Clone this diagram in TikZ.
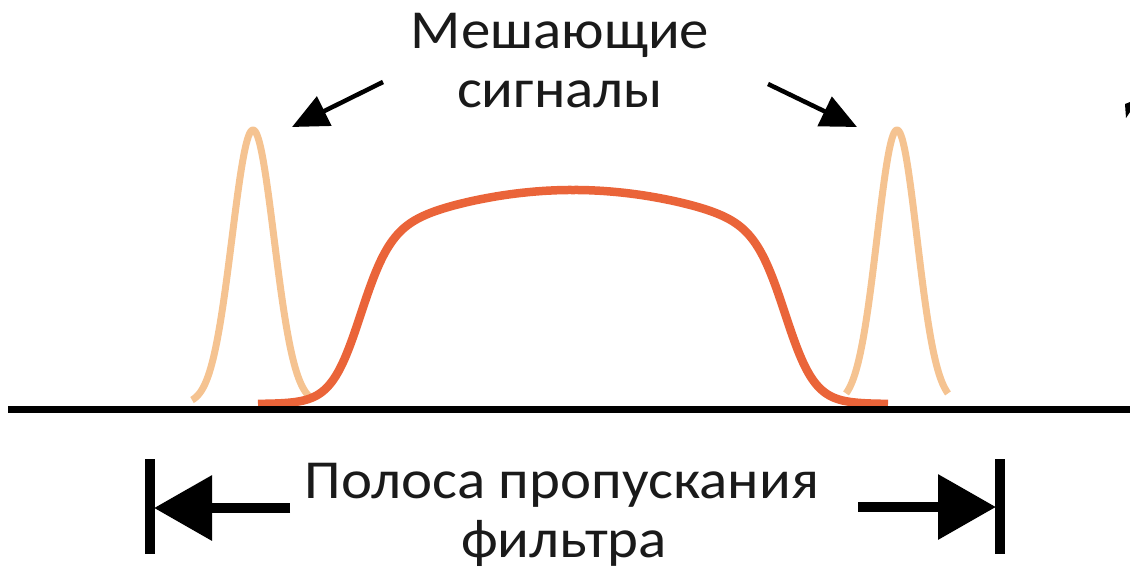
\documentclass[tikz,border=0pt]{standalone}
\usepackage{fontspec}
\setmainfont{Carlito}
\usetikzlibrary{arrows.meta}
\definecolor{peakc}{HTML}{F5C391}
\definecolor{mainc}{HTML}{EA6439}
\definecolor{txtc}{HTML}{1A1A1A}
\newcommand{\wtxt}[1]{\scalebox{1.07}[1]{#1}}
\tikzset{
  lbl/.style={anchor=base, text=txtc, font=\fontsize{55}{55}\selectfont, inner sep=0pt},
  peak/.style={peakc, line width=7pt, line join=round},
  band/.style={mainc, line width=8.5pt, line join=round},
  ptr/.style={line width=4.5pt, -{Triangle[length=36pt,width=32pt]}},
  span/.style={line width=10pt, -{Triangle[length=58pt,width=63pt]}},
  bar/.style={line width=10pt}
}
\begin{document}
\begin{tikzpicture}[x=1pt,y=-1pt]
\useasboundingbox (0,0) rectangle (1130,573);
% interfering peaks
\draw[peak] plot[domain=192:312, samples=120, smooth] (\x,{404-274*exp(-((\x-253)/21)^2/2)});
\draw[peak] plot[domain=846:948, samples=120, smooth] (\x,{404-274*exp(-((\x-897)/20)^2/2)});
% passband
\draw[band] plot[domain=258:888, samples=300, smooth]
  (\x,{404-214*exp(-((\x-573)/440)^2)/((1+exp(min(8,-(\x-359)/15)))*(1+exp(min(8,(\x-787)/15))))});
% baseline
\coordinate (b0) at (8,409);
\coordinate (b1) at (1130,409);
\draw[line width=7pt] (b0) -- (b1);
% labels
\node[lbl] (t1) at (560,48) {\wtxt{Мешающие}};
\node[lbl] (t2) at (560,107) {\wtxt{сигналы}};
\node[lbl] (u1) at (562,498) {\wtxt{Полоса пропускания}};
\node[lbl] (u2) at (564,557) {\wtxt{фильтра}};
% pointer arrows
\coordinate (la0) at (383,82);
\coordinate (lpk) at (292,127);
\coordinate (ra0) at (768,84);
\coordinate (rpk) at (857,127);
\draw[ptr] (la0) -- (lpk);
\draw[ptr] (ra0) -- (rpk);
% band width arrows
\coordinate (ls) at (290,508);
\coordinate (lt) at (154,508);
\coordinate (rs) at (858,507);
\coordinate (rt) at (996,507);
\draw[span] (ls) -- (lt);
\draw[span] (rs) -- (rt);
\coordinate (lb0) at (150,459);
\coordinate (lb1) at (150,554);
\coordinate (rb0) at (1000,459);
\coordinate (rb1) at (1000,554);
\draw[bar] (lb0) -- (lb1);
\draw[bar] (rb0) -- (rb1);
% stray mark at right edge
\fill (1125,104) -- (1130,102) -- (1130,112) -- (1126,118) -- cycle;
\end{tikzpicture}
\end{document}
